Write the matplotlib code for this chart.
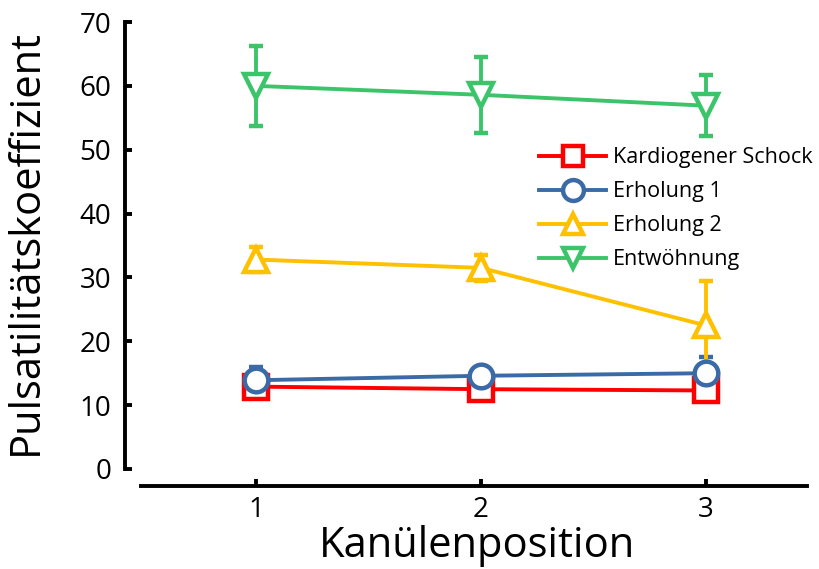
import matplotlib
matplotlib.use("Agg")
import matplotlib.pyplot as plt
from matplotlib.lines import Line2D

plt.rcParams['font.family'] = ['Open Sans', 'DejaVu Sans']

# Data
positions = [1, 2, 3]
series_names = ["Kardiogener Schock", "Erholung 1", "Erholung 2", "Entwöhnung"]
schock = [12.9, 12.5, 12.3]
schock_err = [1.0, 1.0, 1.2]
erholung1 = [13.9, 14.6, 15.0]
erholung1_err = [2.0, 1.0, 2.5]
erholung2 = [32.8, 31.5, 22.5]
erholung2_err = [2.0, 2.0, 7.0]
entwoehnung = [60.0, 58.6, 56.9]
entwoehnung_err = [6.3, 6.0, 4.8]

colors = ["#FF0000", "#3A6BA6", "#FFC000", "#3CC46B"]
markers = ["s", "o", "^", "v"]
values = [schock, erholung1, erholung2, entwoehnung]
errors = [schock_err, erholung1_err, erholung2_err, entwoehnung_err]

fig = plt.figure(figsize=(8.19, 5.69), dpi=100)
ax = fig.add_axes([0.1526, 0.1459, 0.8324, 0.8154])

handles = []
for name, vals, errs, c, m in zip(series_names, values, errors, colors, markers):
    ax.errorbar(positions, vals, yerr=errs, color=c, ecolor=c, elinewidth=2.8,
                capsize=5, capthick=2.8, linewidth=2.8, marker=m,
                markersize=17, markeredgewidth=3.2, markerfacecolor="white",
                markeredgecolor=c)
    handles.append(Line2D([], [], color=c, linewidth=2.8, marker=m,
                          markersize=15, markeredgewidth=3.2,
                          markerfacecolor="white", markeredgecolor=c,
                          label=name))

ax.set_xlim(0.417, 3.45)
ax.set_ylim(-2.66, 70)
ax.set_xticks(positions)
ax.set_yticks(range(0, 71, 10))

for s in ["top", "right"]:
    ax.spines[s].set_visible(False)
ax.spines["left"].set_bounds(0, 70)
ax.spines["bottom"].set_bounds(0.49, 3.45)
ax.spines["left"].set_linewidth(2.8)
ax.spines["bottom"].set_linewidth(2.8)
ax.tick_params(direction="in", width=2.8, length=5, labelsize=20)
ax.tick_params(axis="x", pad=7)
ax.tick_params(axis="y", pad=10)

ax.set_xlabel("Kanülenposition", fontsize=30, labelpad=0)
ax.xaxis.set_label_coords(0.516, -0.085)
ax.set_ylabel("Pulsatilitätskoeffizient", fontsize=30)
ax.yaxis.set_label_coords(-0.115, 0.526)

ax.legend(handles=handles, loc="upper left", bbox_to_anchor=(0.608, 0.73),
          frameon=False, fontsize=15.5, handlelength=3.1, handletextpad=0.3,
          labelspacing=0.6, borderpad=0, borderaxespad=0)

fig.savefig("out.png", dpi=100)
